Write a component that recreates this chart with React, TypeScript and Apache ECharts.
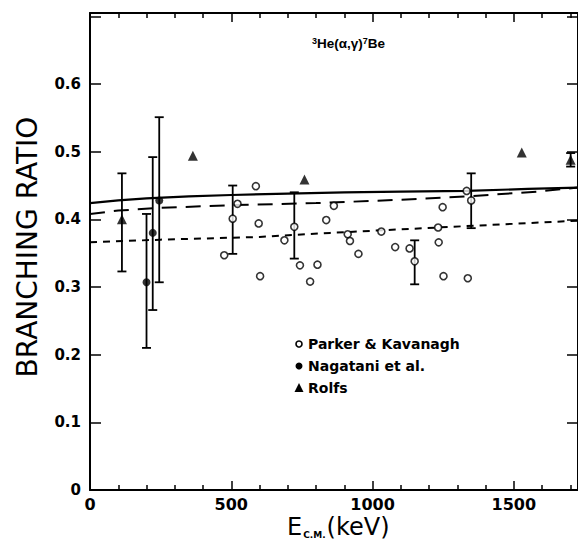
import React, { useEffect, useRef } from "react";
import * as echarts from "echarts";

// Parker & Kavanagh (open circles)
const pkE = [475, 505, 522, 587, 597, 602, 688, 723, 743, 779, 805, 836, 863, 912, 920, 950, 1031, 1080, 1131, 1149, 1232, 1234, 1248, 1251, 1333, 1337, 1349];
const pkR = [0.347, 0.401, 0.423, 0.449, 0.394, 0.316, 0.369, 0.389, 0.332, 0.308, 0.333, 0.399, 0.420, 0.378, 0.368, 0.349, 0.382, 0.359, 0.357, 0.338, 0.388, 0.366, 0.418, 0.316, 0.442, 0.313, 0.428];
// error bars [E, low, high]
const pkErr = [
  [505, 0.349, 0.45],
  [723, 0.342, 0.44],
  [1149, 0.304, 0.369],
  [1349, 0.387, 0.468],
];
// Nagatani et al. (filled circles)
const nagE = [200, 222, 245];
const nagR = [0.307, 0.38, 0.428];
const nagErr = [
  [200, 0.21, 0.408],
  [222, 0.266, 0.492],
  [245, 0.307, 0.551],
];
// Rolfs (triangles)
const rolE = [113, 364, 759, 1528, 1701];
const rolR = [0.4, 0.494, 0.459, 0.499, 0.488];
const rolErr = [
  [113, 0.323, 0.468],
  [1701, 0.478, 0.498],
];
// theory curves
const solidE = [0, 100, 200, 350, 500, 700, 900, 1100, 1333, 1550, 1727];
const solidR = [0.424, 0.428, 0.431, 0.434, 0.436, 0.438, 0.44, 0.441, 0.442, 0.445, 0.447];
const longE = [0, 100, 250, 500, 800, 1100, 1333, 1580, 1727];
const longR = [0.408, 0.413, 0.417, 0.421, 0.424, 0.429, 0.434, 0.441, 0.447];
const shortE = [0, 250, 600, 850, 1230, 1380, 1727];
const shortR = [0.366, 0.37, 0.374, 0.38, 0.388, 0.391, 0.398];

const X_MAX = 1727;
const Y_MAX = 0.705;

const zip = (a: number[], b: number[]) => a.map((v, i) => [v, b[i]]);

const FONT = "DejaVu Sans";

function errRender(params: any, api: any) {
  const x = api.value(0);
  const lo = api.coord([x, api.value(1)]);
  const hi = api.coord([x, api.value(2)]);
  const w = 4.5;
  const st = { stroke: "#000", lineWidth: 1.8 };
  return {
    type: "group",
    children: [
      { type: "line", shape: { x1: lo[0], y1: lo[1], x2: hi[0], y2: hi[1] }, style: st },
      { type: "line", shape: { x1: lo[0] - w, y1: lo[1], x2: lo[0] + w, y2: lo[1] }, style: st },
      { type: "line", shape: { x1: hi[0] - w, y1: hi[1], x2: hi[0] + w, y2: hi[1] }, style: st },
    ],
  };
}

export default function App() {
  const ref = useRef<HTMLDivElement>(null);
  useEffect(() => {
    if (!ref.current) return;
    const chart = echarts.init(ref.current, undefined, { renderer: "svg" });
    const axisLine = { show: true, onZero: false, lineStyle: { color: "#000", width: 2 } };
    const xCommon = {
      type: "value",
      min: 0,
      max: X_MAX,
      interval: 500,
      axisLine,
      splitLine: { show: false },
      axisTick: { show: true, inside: true, length: 9, lineStyle: { color: "#000", width: 1.5 } },
      minorTick: { show: true, splitNumber: 5, length: 5, lineStyle: { color: "#000", width: 1.5 } },
      minorSplitLine: { show: false },
    };
    const yCommon = {
      type: "value",
      min: 0,
      max: Y_MAX,
      interval: 0.1,
      axisLine,
      splitLine: { show: false },
      axisTick: { show: true, inside: true, length: 11, lineStyle: { color: "#000", width: 1.5 } },
    };
    const option: any = {
      animation: false,
      grid: { left: 90, right: 0, top: 13, bottom: 50, containLabel: false },
      xAxis: [
        {
          ...xCommon,
          position: "bottom",
          axisLabel: {
            show: true,
            color: "#000",
            fontFamily: FONT,
            fontSize: 16,
            fontWeight: "bold",
            margin: 6,
            showMaxLabel: false,
            formatter: (v: number) => String(v),
          },
        },
        { ...xCommon, position: "top", axisLabel: { show: false } },
      ],
      yAxis: [
        {
          ...yCommon,
          position: "left",
          axisLabel: {
            show: true,
            color: "#000",
            fontFamily: FONT,
            fontSize: 15,
            fontWeight: "bold",
            margin: 9,
            formatter: (v: number) => (v > 0.65 ? "" : v === 0 ? "0" : v.toFixed(1)),
          },
        },
        { ...yCommon, position: "right", axisLabel: { show: false } },
      ],
      series: [
        {
          name: "solid",
          type: "line",
          data: zip(solidE, solidR),
          showSymbol: false,
          symbol: "none",
          lineStyle: { color: "#000", width: 2.2, type: "solid" },
          z: 2,
        },
        {
          name: "long",
          type: "line",
          data: zip(longE, longR),
          showSymbol: false,
          symbol: "none",
          lineStyle: { color: "#000", width: 2, type: [15, 9] },
          z: 2,
        },
        {
          name: "short",
          type: "line",
          data: zip(shortE, shortR),
          showSymbol: false,
          symbol: "none",
          lineStyle: { color: "#000", width: 2, type: [7, 6] },
          z: 2,
        },
        {
          name: "errors",
          type: "custom",
          renderItem: errRender,
          data: [...pkErr, ...nagErr, ...rolErr],
          encode: { x: 0, y: [1, 2] },
          z: 3,
        },
        {
          name: "Parker & Kavanagh",
          type: "scatter",
          data: zip(pkE, pkR),
          symbol: "circle",
          symbolSize: 7,
          itemStyle: { color: "#fff", borderColor: "#000", borderWidth: 1.6 },
          z: 4,
        },
        {
          name: "Nagatani et al.",
          type: "scatter",
          data: zip(nagE, nagR),
          symbol: "circle",
          symbolSize: 8,
          itemStyle: { color: "#000" },
          z: 4,
        },
        {
          name: "Rolfs",
          type: "scatter",
          data: zip(rolE, rolR),
          symbol: "triangle",
          symbolSize: 10,
          itemStyle: { color: "#000" },
          z: 4,
        },
      ],
      graphic: [
        {
          type: "text",
          rotation: Math.PI / 2,
          x: 27,
          y: 247,
          style: {
            text: "BRANCHING RATIO",
            fill: "#000",
            font: `normal 28px ${FONT}`,
            align: "center",
            verticalAlign: "middle",
          },
        },
        {
          type: "text",
          x: 287,
          y: 527,
          style: {
            text: "{a|E}{b|C.M.}{a|(keV)}",
            fill: "#000",
            verticalAlign: "middle",
            rich: {
              a: { fontFamily: FONT, fontSize: 24, fill: "#000", verticalAlign: "bottom" },
              b: { fontFamily: FONT, fontSize: 9, fontWeight: "bold", fill: "#000", verticalAlign: "bottom", padding: [0, 1, 0, 1] },
            },
          },
        },
        {
          type: "text",
          x: 312,
          y: 43,
          style: {
            text: "{s|3}{m|He(α,γ)}{s|7}{m|Be}",
            fill: "#000",
            verticalAlign: "middle",
            rich: {
              s: { fontFamily: "Liberation Sans", fontSize: 9, fontWeight: "bold", fill: "#000", verticalAlign: "top" },
              m: { fontFamily: "Liberation Sans", fontSize: 13.5, fontWeight: "bold", fill: "#000", verticalAlign: "bottom" },
            },
          },
        },
        { type: "circle", shape: { cx: 299, cy: 344, r: 3 }, style: { fill: "#fff", stroke: "#000", lineWidth: 1.6 } },
        { type: "text", x: 308, y: 344, style: { text: "Parker & Kavanagh", fill: "#000", font: `bold 14px ${FONT}`, verticalAlign: "middle" } },
        { type: "circle", shape: { cx: 299, cy: 366, r: 3.5 }, style: { fill: "#000" } },
        { type: "text", x: 308, y: 366, style: { text: "Nagatani et al.", fill: "#000", font: `bold 14px ${FONT}`, verticalAlign: "middle" } },
        { type: "polygon", shape: { points: [[299, 383], [294.5, 392], [303.5, 392]] }, style: { fill: "#000" } },
        { type: "text", x: 308, y: 388, style: { text: "Rolfs", fill: "#000", font: `bold 14px ${FONT}`, verticalAlign: "middle" } },
      ],
    };
    chart.setOption(option);
    return () => chart.dispose();
  }, []);
  return (
    <div
      ref={ref}
      style={{ position: "fixed", left: 0, top: 0, width: 578, height: 540, background: "#fff" }}
    />
  );
}
